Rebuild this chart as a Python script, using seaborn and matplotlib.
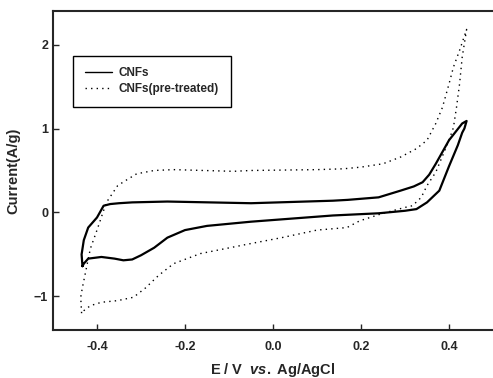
import numpy as np
import pandas as pd
import matplotlib
matplotlib.use("Agg")
import matplotlib.pyplot as plt
import seaborn as sns

# -----------------------------
# Data
# -----------------------------
cnf_x = [-0.433, -0.435, -0.43, -0.42, -0.40, -0.385, -0.37, -0.35, -0.32, -0.24, -0.05,
         0.136, 0.17, 0.24, 0.29, 0.32, 0.34, 0.355, 0.37, 0.40, 0.43, 0.44,
         0.435, 0.43, 0.42, 0.40, 0.378, 0.35, 0.326, 0.30, 0.24, 0.136, -0.05,
         -0.15, -0.20, -0.24, -0.27, -0.30, -0.32, -0.34, -0.36, -0.39, -0.42,
         -0.43, -0.433]
cnf_y = [-0.64, -0.50, -0.33, -0.18, -0.06, 0.08, 0.10, 0.11, 0.12, 0.13, 0.11,
         0.14, 0.15, 0.18, 0.26, 0.31, 0.36, 0.45, 0.58, 0.86, 1.06, 1.09,
         1.0, 0.95, 0.80, 0.55, 0.26, 0.12, 0.04, 0.02, -0.01, -0.036, -0.11,
         -0.16, -0.21, -0.30, -0.42, -0.51, -0.56, -0.57, -0.55, -0.53, -0.55,
         -0.61, -0.64]

pre_x = [-0.435, -0.437, -0.433, -0.415, -0.40, -0.38, -0.376, -0.353, -0.335, -0.31,
         -0.27, -0.226, -0.09, -0.05, 0.10, 0.16, 0.20, 0.25, 0.29, 0.326, 0.35,
         0.37, 0.385, 0.40, 0.41, 0.424, 0.44,
         0.43, 0.424, 0.417, 0.41, 0.40, 0.37, 0.35, 0.337, 0.317, 0.30, 0.25,
         0.197, 0.168, 0.10, 0.02, -0.05, -0.165, -0.226, -0.26, -0.29, -0.317,
         -0.353, -0.39, -0.415, -0.43, -0.435]
pre_y = [-1.2, -1.01, -0.89, -0.43, -0.21, 0.10, 0.14, 0.32, 0.38, 0.46,
         0.50, 0.51, 0.49, 0.50, 0.51, 0.52, 0.54, 0.58, 0.66, 0.76, 0.86,
         1.06, 1.25, 1.53, 1.73, 1.93, 2.18,
         1.85, 1.53, 1.25, 1.01, 0.86, 0.48, 0.32, 0.18, 0.08, 0.06, -0.01,
         -0.10, -0.18, -0.21, -0.30, -0.37, -0.49, -0.61, -0.75, -0.90, -1.01,
         -1.05, -1.07, -1.11, -1.17, -1.2]

x_ticks = [-0.4, -0.2, 0.0, 0.2, 0.4]
y_ticks = [-1, 0, 1, 2]

df = pd.concat([
    pd.DataFrame({"E": cnf_x, "I": cnf_y, "sample": "CNFs"}),
    pd.DataFrame({"E": pre_x, "I": pre_y, "sample": "CNFs(pre-treated)"}),
], ignore_index=True)

# -----------------------------
# Style
# -----------------------------
sns.set_style("ticks")
plt.rcParams["font.family"] = ["Liberation Sans", "DejaVu Sans"]
plt.rcParams["font.weight"] = "bold"
plt.rcParams["mathtext.fontset"] = "custom"
plt.rcParams["mathtext.it"] = "Liberation Sans:italic:bold"
plt.rcParams["mathtext.rm"] = "Liberation Sans:bold"

fig = plt.figure(figsize=(4.93, 3.78), dpi=100)
ax = fig.add_axes([0.1075, 0.127, 0.8925, 0.844])

sns.lineplot(data=df, x="E", y="I", hue="sample", style="sample",
             sort=False, estimator=None,
             palette={"CNFs": "black", "CNFs(pre-treated)": "black"},
             dashes={"CNFs": "", "CNFs(pre-treated)": (1, 3)},
             linewidth=1.6, ax=ax)
for line in ax.get_lines()[1:]:
    line.set_linewidth(1.0)

ax.set_xlim(-0.5, 0.5)
ax.set_ylim(-1.4, 2.4)
ax.set_xticks(x_ticks)
ax.set_xticklabels([f"{t:.1f}" for t in x_ticks])
ax.set_yticks(y_ticks)
ax.tick_params(direction="in", length=4, width=1, labelsize=9)
ax.tick_params(axis="x", pad=8)
for s in ["left", "bottom", "top"]:
    ax.spines[s].set_linewidth(1.5)
ax.spines["right"].set_visible(False)

ax.set_xlabel(r"E / V  $\mathit{vs.}$ Ag/AgCl", fontsize=10.5, fontweight="bold", labelpad=6)
ax.set_ylabel("Current(A/g)", fontsize=10.5, fontweight="bold", labelpad=10)

handles, labels = ax.get_legend_handles_labels()
handles[1].set_linewidth(1.0)
leg = ax.legend(handles, labels, loc="upper left", bbox_to_anchor=(0.045, 0.86),
                borderaxespad=0, fancybox=False, edgecolor="black",
                fontsize=8.5, handlelength=2.3, handletextpad=0.6,
                borderpad=1.0, labelspacing=0.3, framealpha=1)
leg.get_frame().set_linewidth(1.0)

fig.savefig("out.png", dpi=100)
